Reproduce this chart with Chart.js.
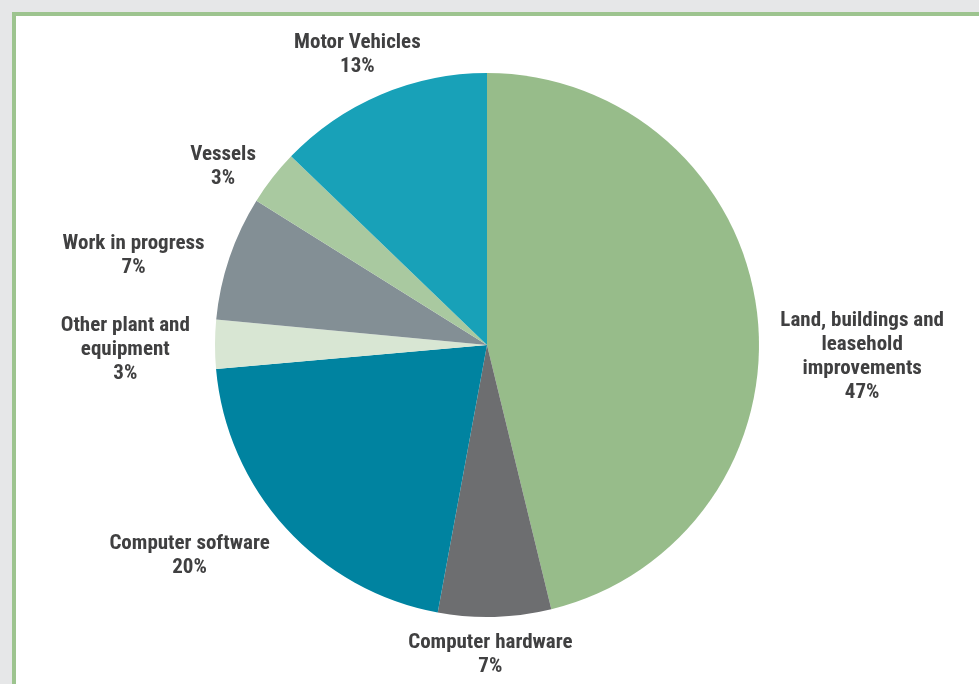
<!DOCTYPE html>
<html>
<head>
<meta charset="utf-8">
<title>Asset composition</title>
<script src="https://cdn.jsdelivr.net/npm/chart.js@4.4.1/dist/chart.umd.min.js"></script>
<style>
  html, body { margin: 0; padding: 0; background: #e6e7e8; overflow: hidden; }
  #frame {
    position: absolute; left: 12px; top: 12px; width: 1000px; height: 700px;
    background: #fff; border-left: 4px solid #9dc48f; border-top: 4px solid #9dc48f;
  }
  #wrap { position: absolute; left: 0; top: 0; width: 979px; height: 684px; }
</style>
</head>
<body>
<div id="frame"></div>
<div id="wrap"><canvas id="chart"></canvas></div>
<script>
// slices clockwise from 12 o'clock
const categories = [
    ['Land, buildings and', 'leasehold', 'improvements'],
    ['Computer hardware'],
    ['Computer software'],
    ['Other plant and', 'equipment'],
    ['Work in progress'],
    ['Vessels'],
    ['Motor Vehicles']
];
const shares = [46.2, 6.7, 20.7, 2.9, 7.4, 3.3, 12.8];
const shareLabels = ['47%', '7%', '20%', '3%', '7%', '3%', '13%'];
const colours = ['#97bc8a', '#6d6e70', '#0083a0', '#d8e6d3', '#838f95', '#a9c9a0', '#18a1b8'];

// label placement: distance from centre (x radius) and angle nudge in degrees
const labelPos = [
    { r: 1.38, da: 8.7 },
    { r: 1.14, da: 1 },
    { r: 1.34, da: 7 },
    { r: 1.33, da: -1 },
    { r: 1.34, da: -4.6 },
    { r: 1.17, da: -4 },
    { r: 1.17, da: -1 }
];

const sliceLabels = {
    id: 'sliceLabels',
    afterDatasetsDraw(chart) {
        const ctx = chart.ctx;
        const arcs = chart.getDatasetMeta(0).data;
        ctx.save();
        ctx.font = 'bold 21px "Liberation Sans Narrow", "Roboto Condensed", sans-serif';
        ctx.fillStyle = '#404041';
        ctx.textAlign = 'center';
        ctx.textBaseline = 'middle';
        const lineH = 24;
        arcs.forEach((arc, i) => {
            const p = arc.getProps(['x', 'y', 'startAngle', 'endAngle', 'outerRadius'], true);
            const mid = (p.startAngle + p.endAngle) / 2 + labelPos[i].da * Math.PI / 180;
            const d = p.outerRadius * labelPos[i].r;
            const cx = p.x + Math.cos(mid) * d;
            const cy = p.y + Math.sin(mid) * d;
            const lines = categories[i].concat([shareLabels[i]]);
            const top = cy - (lines.length - 1) * lineH / 2;
            lines.forEach((t, k) => ctx.fillText(t, cx, top + k * lineH));
        });
        ctx.restore();
    }
};

new Chart(document.getElementById('chart'), {
    type: 'pie',
    data: {
        labels: categories.map(c => c.join(' ')),
        datasets: [{
            data: shares,
            backgroundColor: colours,
            borderWidth: 0
        }]
    },
    options: {
        responsive: true,
        maintainAspectRatio: false,
        animation: false,
        layout: { padding: { top: 73, bottom: 67, left: 215, right: 220 } },
        plugins: {
            legend: { display: false },
            tooltip: { enabled: false }
        }
    },
    plugins: [sliceLabels]
});
</script>
</body>
</html>
